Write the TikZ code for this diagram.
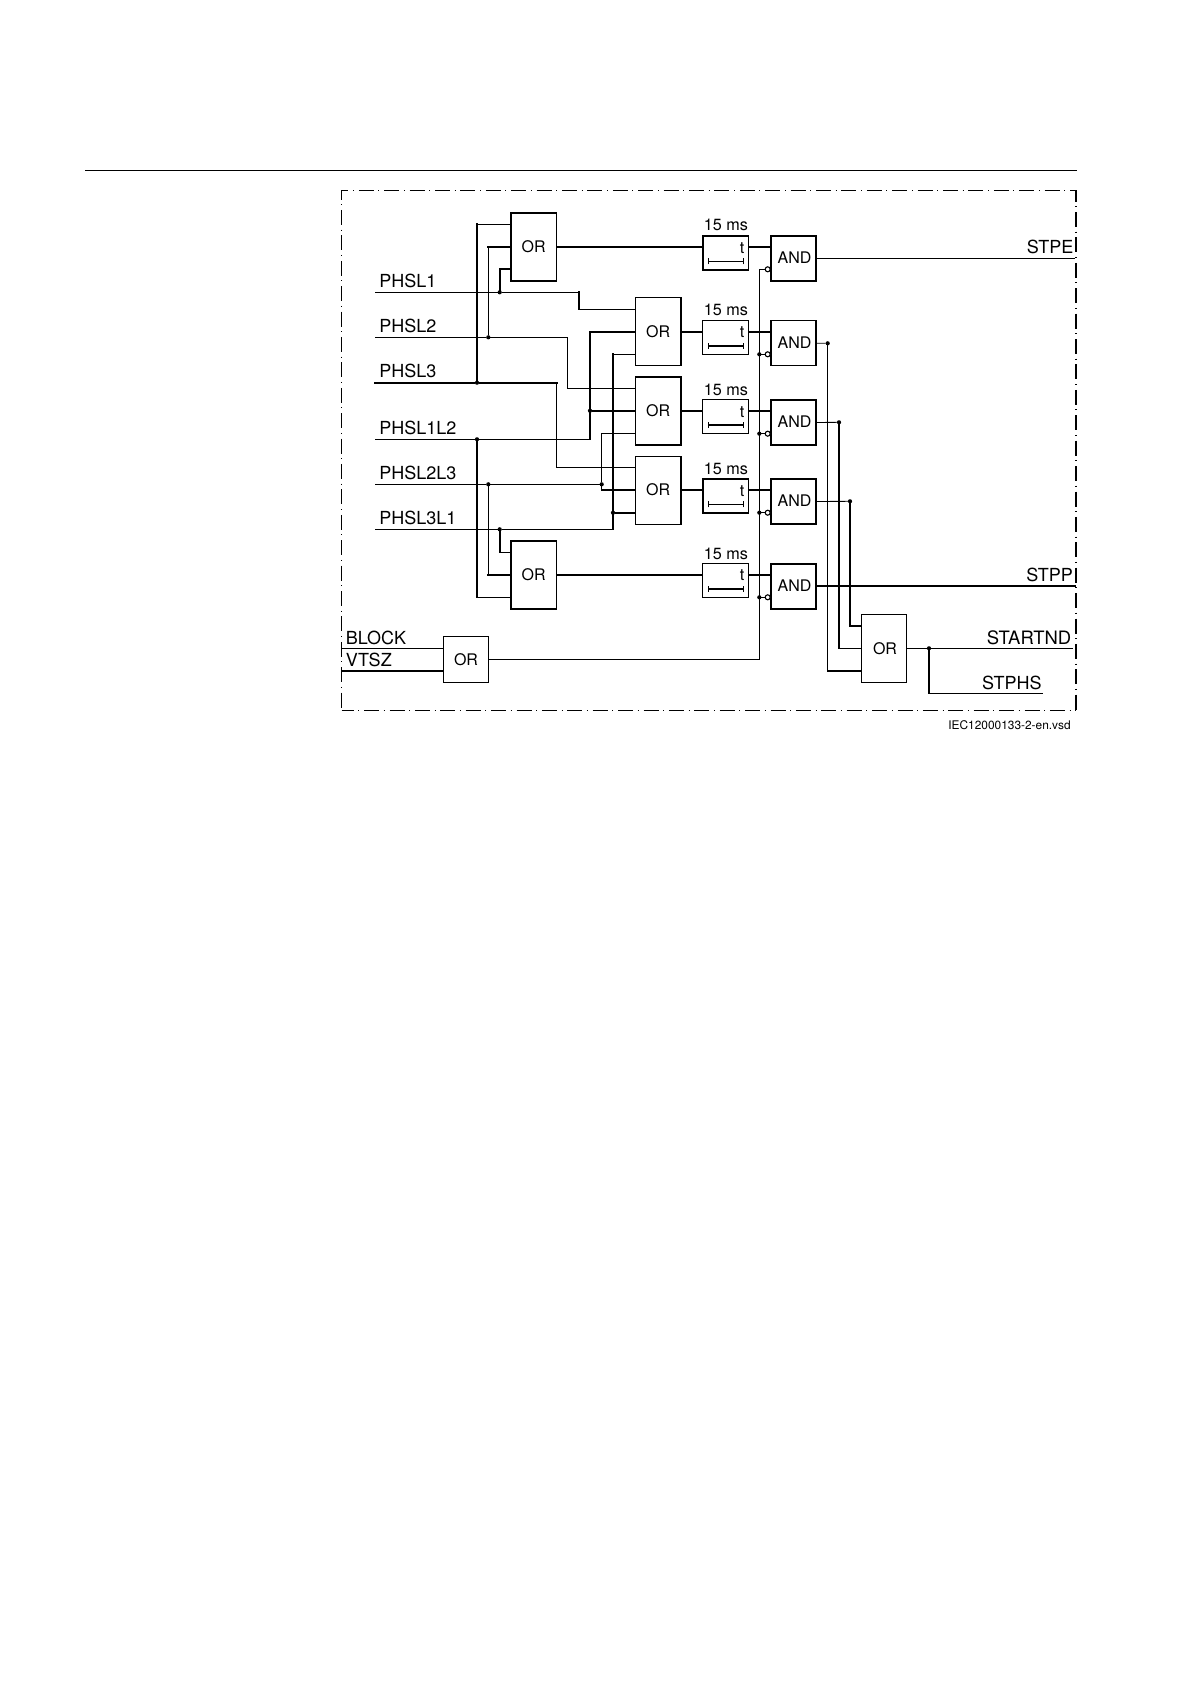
\documentclass[tikz,border=0pt]{standalone}
\usepackage{fontspec}
\setmainfont{TeX Gyre Heros}
\usetikzlibrary{calc}
\tikzset{
  thn/.style={line width=0.42pt,line cap=rect,line join=miter},
  thk/.style={line width=0.85pt,line cap=rect,line join=miter},
  box/.style={draw,line width=0.6pt,inner sep=0,outer sep=0,font=\fontsize{8}{9}\selectfont},
  boxthin/.style={box,line width=0.45pt},
  boxthick/.style={box,line width=0.8pt},
  orsize/.style={minimum width=22.75pt,minimum height=34pt},
  orsmall/.style={minimum width=22.75pt,minimum height=23pt},
  andsize/.style={minimum width=22.75pt,minimum height=22.5pt},
  timersize/.style={minimum width=22.8pt,minimum height=17pt},
  dot/.style={circle,fill=black,inner sep=0,minimum size=2.1pt},
  bubble/.style={circle,draw,fill=white,line width=0.55pt,inner sep=0,minimum size=2.5pt},
  lab/.style={anchor=base west,inner sep=0,font=\fontsize{9}{10}\selectfont},
  labr/.style={anchor=base east,inner sep=0,font=\fontsize{9}{10}\selectfont},
  ms/.style={anchor=base,inner sep=0,font=\fontsize{8.1}{9}\selectfont},
  frame/.style={line width=0.42pt,dash pattern=on 7.5pt off 2.3pt on 0.5pt off 2.4pt},
}
\newcommand{\andtext}{\hspace*{1pt}\raisebox{.5pt}{AND}}
\newcommand{\timerbar}[3]{%
  \draw[#2,line cap=butt] ($(#1.south west)+(6,-8.5)$) -- ($(#1.south east)+(-5,-8.5)$);
  \draw[thn,line cap=butt] ($(#1.south west)+(6,-5.5)$) -- ($(#1.south west)+(6,-11.5)$);
  \draw[thn,line cap=butt] ($(#1.south east)+(-5,-5.5)$) -- ($(#1.south east)+(-5,-11.5)$);
  \node[ms] at ($(#1.north east)+(-6.3,17.5)$) {t};
  \node[ms] at ($(#1.north)+(0.5,-#3)$) {15 ms};
}
\begin{document}
\begin{tikzpicture}[x=0.5pt,y=-0.5pt]
\useasboundingbox (0,0) rectangle (1191,1684);
\draw[line width=0.42pt] (85,170.5) -- (1077,170.5);
% frame
\draw[frame,dash phase=2.85pt] (341.5,190.3) -- (341.5,710.3);
\draw[frame,dash phase=4.05pt] (341.5,190.3) -- (1076,190.3);
\draw[frame,dash phase=1.4pt] (341.5,710.3) -- (1076,710.3);
\draw[frame,dash phase=1.8pt,line width=0.7pt] (1076,190.3) -- (1076,710.3);

% gates
\node[boxthick,orsize] (or1) at (533.7,247) {OR};
\node[boxthick,orsize] (or2) at (658.2,331.7) {OR};
\node[boxthick,orsize] (or3) at (658.2,410.8) {OR};
\node[box,orsize] (or4) at (658.2,490.1) {OR};
\node[boxthick,orsize] (or5) at (533.7,574.9) {OR};
\node[boxthin,orsmall] (or6) at (466,659.3) {OR};
\node[boxthin,orsize] (or7) at (884,648.3) {\hspace*{1pt}OR};
\node[boxthick,timersize] (t1) at (725.5,253) {};
\node[boxthin,timersize] (t2) at (725.5,337.3) {};
\node[box,timersize] (t3) at (725.5,416.7) {};
\node[boxthick,timersize] (t4) at (725.5,495.9) {};
\node[boxthin,timersize] (t5) at (725.5,580.3) {};
\node[boxthick,andsize] (a1) at (793.5,258.5) {\andtext};
\node[boxthick,andsize] (a2) at (793.5,343.2) {\andtext};
\node[boxthick,andsize] (a3) at (793.5,422.5) {\andtext};
\node[boxthick,andsize] (a4) at (793.5,501.5) {\andtext};
\node[boxthick,andsize] (a5) at (793.5,586.2) {\andtext};
\timerbar{t1}{thn}{5.5}
\timerbar{t2}{thk}{4.8}
\timerbar{t3}{thk}{4.5}
\timerbar{t4}{thn}{4}
\timerbar{t5}{thk}{3.5}

% labels
\node[lab] (l1) at (379,287.5) {PHSL1};
\node[lab] (l2) at (379,333) {PHSL2};
\node[lab] (l3) at (379,378) {PHSL3};
\node[lab] (l4) at (379,435) {PHSL1L2};
\node[lab] (l5) at (379,480) {PHSL2L3};
\node[lab] (l6) at (379,524.3) {PHSL3L1};
\node[lab] (l7) at (345.5,644.7) {BLOCK};
\node[lab] (l8) at (345.5,666) {VTSZ};
\node[labr] (r1) at (1073.8,254) {STPE};
\node[labr] (r2) at (1073.2,581.5) {STPP};
\node[labr,font=\fontsize{9.23}{10}\selectfont] (r3) at (1071.7,644.5) {STARTND};
\node[labr] (r4) at (1042,689.5) {STPHS};
\node[anchor=base east,inner sep=0,font=\fontsize{5.95}{7}\selectfont] (ref) at (1071,729.5) {IEC12000133-2-en.vsd};

% signal starts
\coordinate (s1) at (375,292.3);
\coordinate (s2) at (375,337.3);
\coordinate (s3) at (375,382.7);
\coordinate (s4) at (375,439.3);
\coordinate (s5) at (375,484.3);
\coordinate (s6) at (375,529.3);
\coordinate (s7) at (341.5,648.3);
\coordinate (s8) at (341.5,671);
% gate pins
\coordinate (o1a) at (or1.west |- 0,224.3);
\coordinate (o1b) at (or1.west |- 0,247);
\coordinate (o1c) at (or1.west |- 0,269.3);
\coordinate (o2a) at (or2.west |- 0,309.3);
\coordinate (o2b) at (or2.west |- 0,332);
\coordinate (o2c) at (or2.west |- 0,354.3);
\coordinate (o3a) at (or3.west |- 0,388.7);
\coordinate (o3b) at (or3.west |- 0,410.7);
\coordinate (o3c) at (or3.west |- 0,433.7);
\coordinate (o4a) at (or4.west |- 0,467.3);
\coordinate (o4b) at (or4.west |- 0,490);
\coordinate (o4c) at (or4.west |- 0,512.7);
\coordinate (o5a) at (or5.west |- 0,552.3);
\coordinate (o5b) at (or5.west |- 0,575);
\coordinate (o5c) at (or5.west |- 0,597.3);
\coordinate (o6a) at (or6.west |- 0,648.3);
\coordinate (o6b) at (or6.west |- 0,671);
\coordinate (o7a) at (or7.west |- 0,626);
\coordinate (o7b) at (or7.west |- 0,648.3);
\coordinate (o7c) at (or7.west |- 0,671);
% junctions
\node[dot] (d1) at (499.7,292.3) {};
\node[dot] (d2) at (488.3,337.3) {};
\node[dot] (d3) at (477,382.7) {};
\node[dot] (d4) at (477,439.3) {};
\node[dot] (d5) at (488.3,484.3) {};
\node[dot] (d6) at (499.7,529.3) {};
\node[dot] (d7) at (590,410.7) {};
\node[dot] (d8) at (601.7,484.3) {};
\node[dot] (d9) at (613,512.7) {};
\node[dot] (e2) at (827.7,343.3) {};
\node[dot] (e3) at (839,422.3) {};
\node[dot] (e4) at (850,501.3) {};
\node[dot] (e7) at (929,648.3) {};
% inversion bubbles
\node[bubble] (n1) at (767.7,269.3) {};
\node[bubble] (n2) at (767.7,354.3) {};
\node[bubble] (n3) at (767.7,433.7) {};
\node[bubble] (n4) at (767.7,512.7) {};
\node[bubble] (n5) at (767.7,597.3) {};
\node[dot] (b2) at (759.3,354.3) {};
\node[dot] (b3) at (759.3,433.7) {};
\node[dot] (b4) at (759.3,512.7) {};
\node[dot] (b5) at (759.3,597.3) {};
\coordinate (b1) at (759.3,269.3);
\coordinate (b6) at (759.3,659.3);

% PHSL inputs
\draw[thn] (s1) -- (d1) -- (579,292.3);
\draw[thk] (579,292.3) -- (o2a -| 579,0);
\draw[thn] (o2a -| 579,0) -- (o2a);
\draw[thn] (s2) -- (d2) -- (d2 -| 567.7,0) -- (o3a -| 567.7,0) -- (o3a);
\draw[thk] (s3) -- (d3) -- (d3 -| 556.7,0);
\draw[thn] (d3 -| 556.7,0) -- (o4a -| 556.7,0) -- (o4a);
\draw[thn] (s4) -- (d4) -- (d4 -| d7);
\draw[thk] (d4 -| d7) -- (d7) -- (o2b -| d7) -- (o2b);
\draw[thk] (d7) -- (o3b);
\draw[thn] (s5) -- (d5) -- (d8) -- (o3c -| d8) -- (o3c);
\draw[thn] (d8) -- (o4b -| d8);
\draw[thk] (o4b -| d8) -- (o4b);
\draw[thn] (s6) -- (d6) -- (d6 -| d9);
\draw[thk] (d6 -| d9) -- (d9) -- (o2c -| d9);
\draw[thn] (o2c -| d9) -- (o2c);
\draw[thk] (d9) -- (o4c);
% first OR
\draw[thk] (d3) -- (o1a -| d3);
\draw[thn] (o1a -| d3) -- (o1a);
\draw[thn] (d2) -- (o1b -| d2);
\draw[thk] (o1b -| d2) -- (o1b);
\draw[thk] (d1) -- (o1c -| d1) -- (o1c);
% fifth OR
\draw[thk] (d6) -- (o5a -| d6);
\draw[thn] (o5a -| d6) -- (o5a);
\draw[thn] (d5) -- (o5b -| d5);
\draw[thk] (o5b -| d5) -- (o5b);
\draw[thk] (d4) -- (o5c -| d4);
\draw[thn] (o5c -| d4) -- (o5c);
% sixth OR
\draw[thn] (s7) -- (o6a);
\draw[thk] (s8) -- (o6b);
\draw[thn] (or6.east) -- (or6.east -| b6) -- (b1) -- (n1);
\draw[thn] (b2) -- (n2);
\draw[thn] (b3) -- (n3);
\draw[thn] (b4) -- (n4);
\draw[thn] (b5) -- (n5);
% OR to timer to AND
\foreach \g/\t/\a in {or1/t1/a1,or2/t2/a2,or3/t3/a3,or4/t4/a4,or5/t5/a5}{
  \draw[thk,line cap=butt] (\g.east) -- (\g.east -| \t.west);
  \draw[thk,line cap=butt] (\g.east -| \t.east) -- (\g.east -| \a.west);
}
% AND outputs
\draw[thn,line cap=butt] (a1.east) -- (a1.east -| 1075,0);
\draw[thn] (a2.east) -- (e2);
\draw[thn] (a3.east) -- (e3);
\draw[thn] (a4.east) -- (e4);
\draw[thk,line cap=butt] (a5.east) -- (a5.east -| 1076,0);
\draw[thn] (e2) -- (o7c -| e2);
\draw[thk] (o7c -| e2) -- (o7c);
\draw[thk] (e3) -- (o7b -| e3);
\draw[thn] (o7b -| e3) -- (o7b);
\draw[thk] (e4) -- (o7a -| e4) -- (o7a);
% last OR
\draw[thn] (or7.east) -- (e7) -- (e7 -| 1072.7,0);
\draw[thk] (e7) -- (e7 |- 0,693.3);
\draw[thn] (e7 |- 0,693.3) -- (1042.7,693.3);
\end{tikzpicture}
\end{document}
